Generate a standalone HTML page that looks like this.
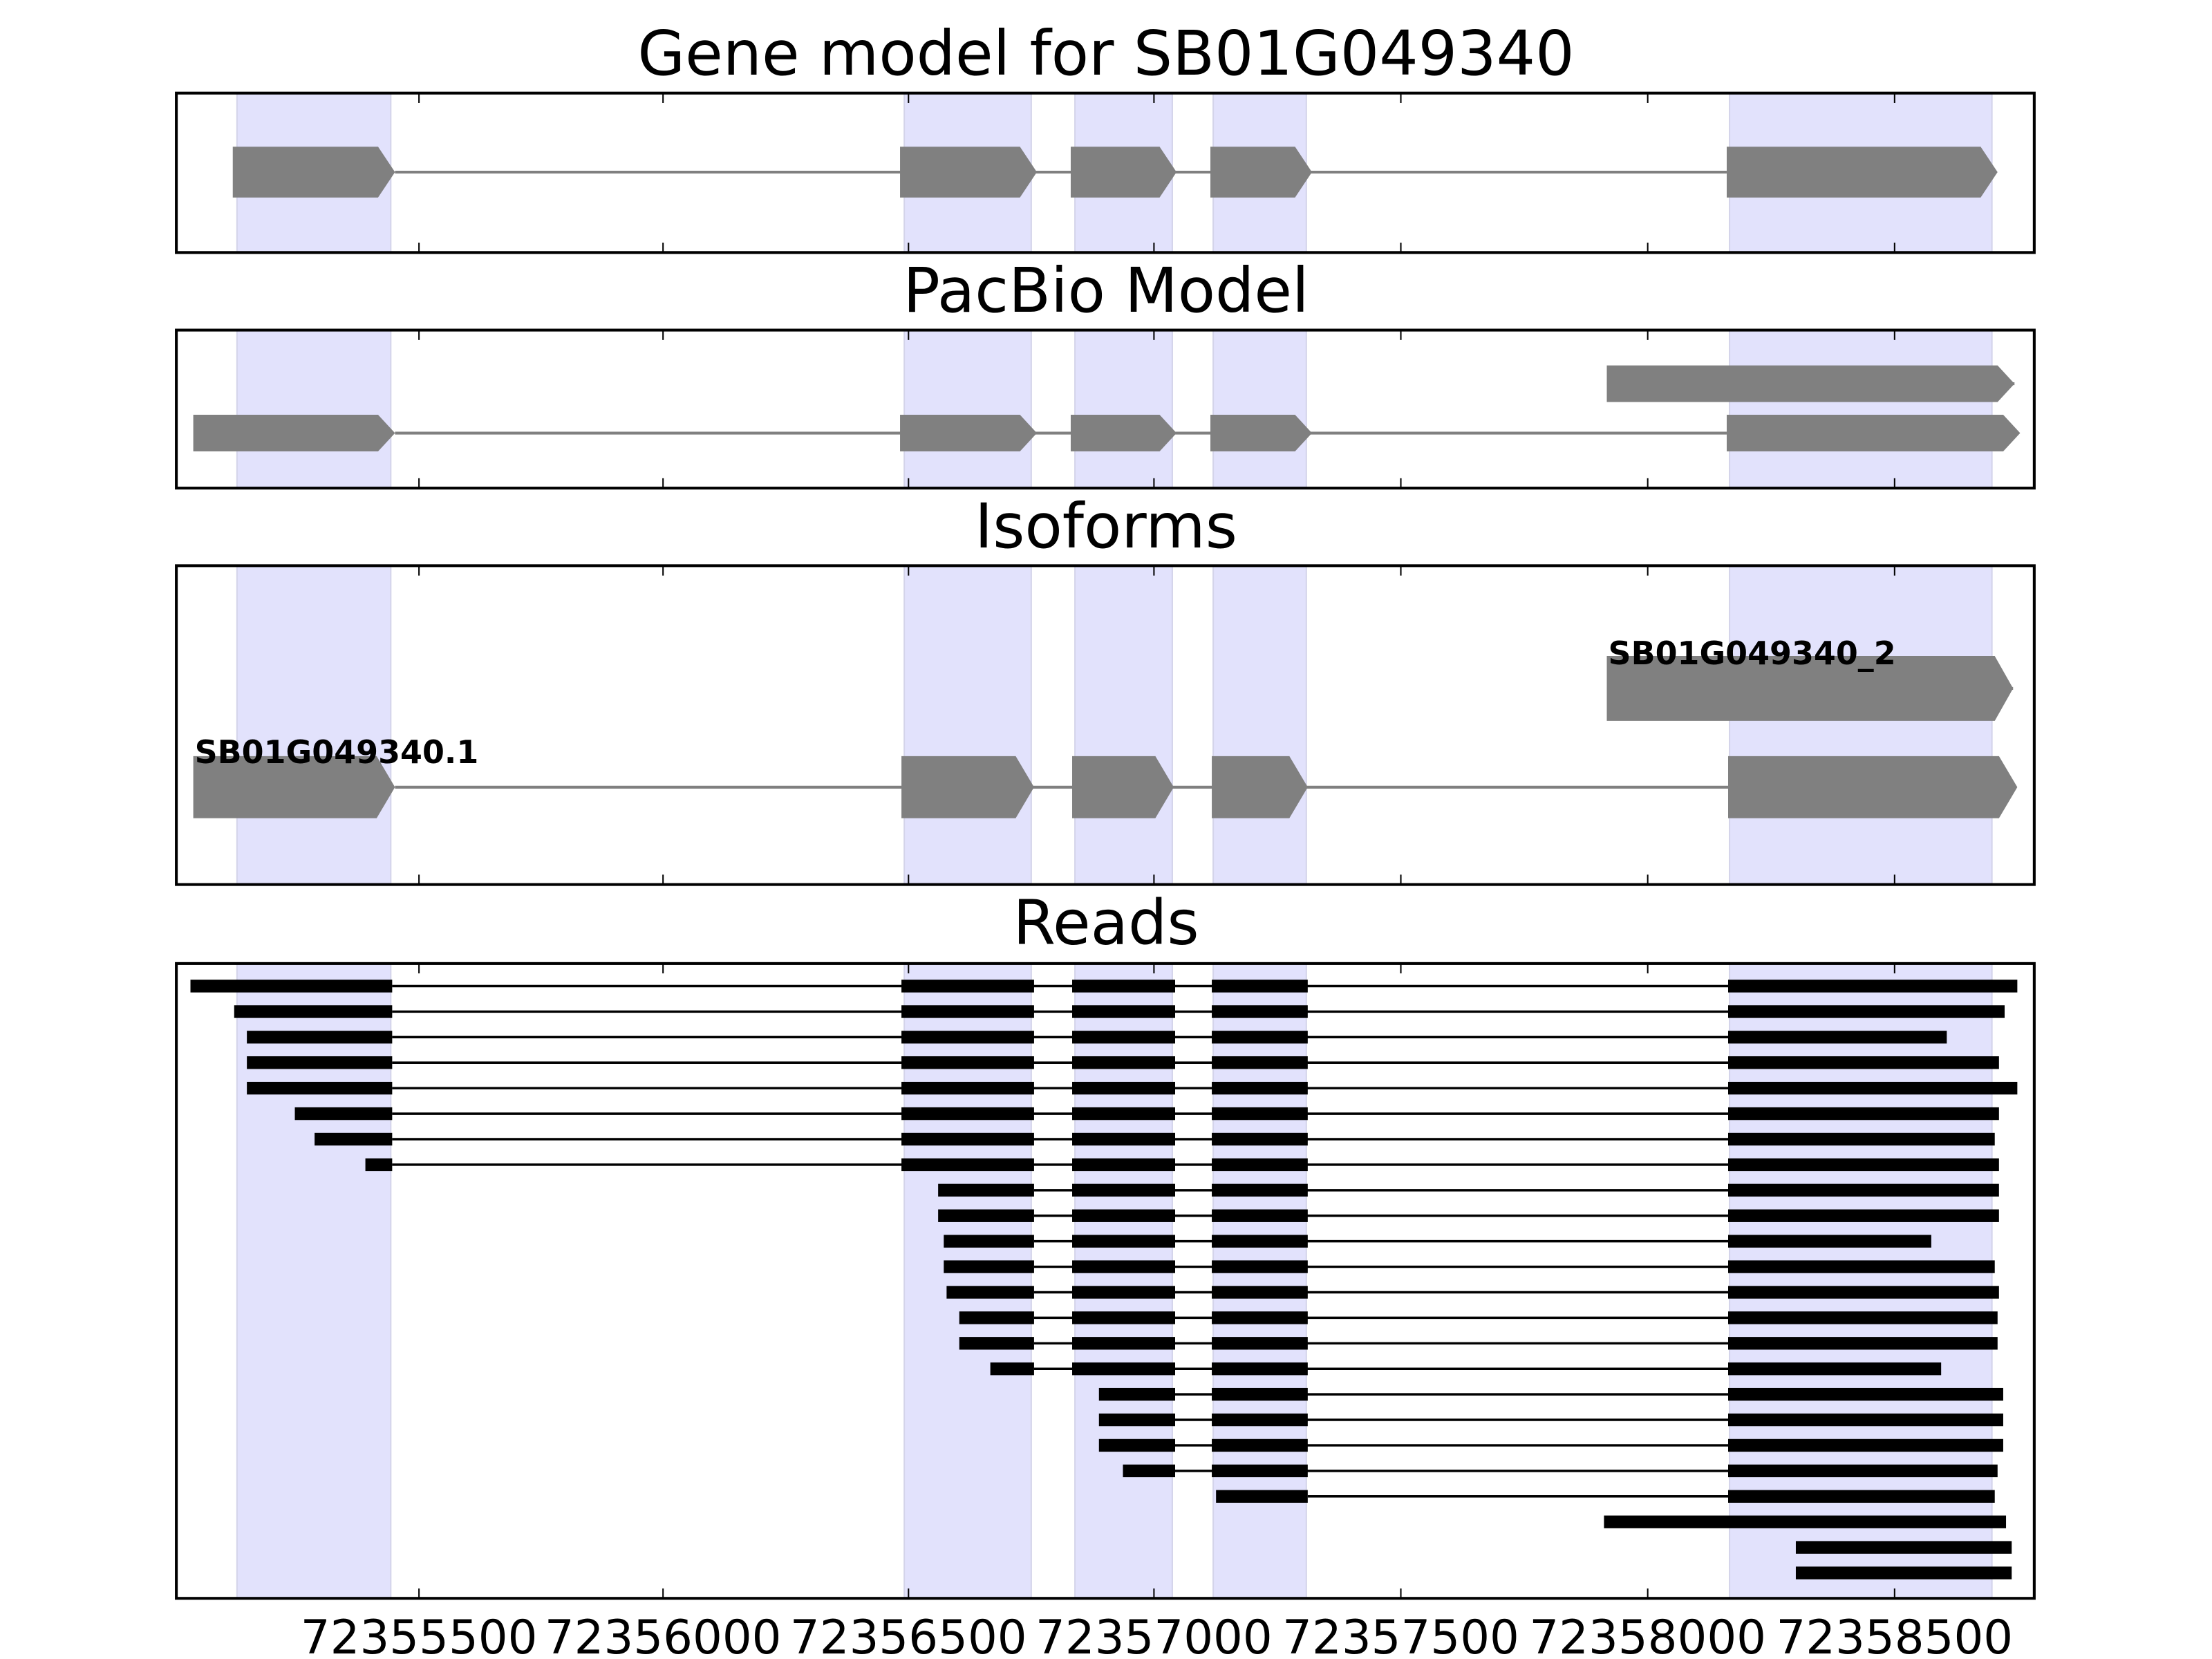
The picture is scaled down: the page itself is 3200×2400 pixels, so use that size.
<!DOCTYPE html>
<html><head><meta charset="utf-8"><style>html,body{margin:0;padding:0;background:#fff}svg{display:block}</style></head>
<body>
<svg id="s" xmlns="http://www.w3.org/2000/svg" width="3200" height="2400" viewBox="0 0 1568 1176" preserveAspectRatio="none">
<rect width="1568" height="1176" fill="#fff"/>
<g id="bands"></g>
<g id="shapes"></g>
<g id="axes"></g>
<g font-family="DejaVu Sans, Liberation Sans, sans-serif" fill="#000">
<text x="784" y="53" font-size="43.5" text-anchor="middle">Gene model for SB01G049340</text>
<text x="784" y="221" font-size="43.5" text-anchor="middle">PacBio Model</text>
<text x="784" y="388" font-size="43.5" text-anchor="middle">Isoforms</text>
<text x="784" y="669" font-size="43.5" text-anchor="middle">Reads</text>
<text x="1140" y="471" font-size="22.5" font-weight="bold">SB01G049340_2</text>
<text x="138" y="541" font-size="22.5" font-weight="bold">SB01G049340.1</text>
<g font-size="33" text-anchor="middle">
<text x="297" y="1172">72355500</text>
<text x="470" y="1172">72356000</text>
<text x="644" y="1172">72356500</text>
<text x="818" y="1172">72357000</text>
<text x="993" y="1172">72357500</text>
<text x="1168" y="1172">72358000</text>
<text x="1343" y="1172">72358500</text>
</g>
</g>
</svg>
<script>
const NS="http://www.w3.org/2000/svg";
function el(g,t,a){const e=document.createElementNS(NS,t);for(const k in a)e.setAttribute(k,a[k]);document.getElementById(g).appendChild(e);}
const panels=[[66,179],[234,346],[401,627],[683,1133]];
const bands=[[168,277],[641,731],[762,831],[860,926],[1226,1412]];
const ticks=[297,470,644,818,993,1168,1343];
panels.forEach(([t,b])=>{
 bands.forEach(([a,c])=>el('bands','rect',{x:a,y:t,width:c-a,height:b-t,fill:'#e2e2fc',stroke:'#d4d4ea','stroke-width':1}));
 ticks.forEach(x=>{el('axes','line',{x1:x,x2:x,y1:t,y2:t+7,stroke:'#000','stroke-width':1});el('axes','line',{x1:x,x2:x,y1:b,y2:b-7,stroke:'#000','stroke-width':1});});
 el('axes','rect',{x:125,y:t,width:1317,height:b-t,fill:'none',stroke:'#000','stroke-width':2});
});
function gene(exons,y,h,tip){
 el('shapes','line',{x1:exons[0][1],x2:exons[exons.length-1][0],y1:y,y2:y,stroke:'#808080','stroke-width':2});
 exons.forEach(([a,c])=>{el('shapes','polygon',{points:`${a},${y-h} ${c-tip},${y-h} ${c},${y} ${c-tip},${y+h} ${a},${y+h}`,fill:'#808080'});});
}
gene([[165,280],[638,735],[759,834],[858,930],[1224,1416]],122,18,12);
gene([[1139,1428]],272,13,12);
gene([[137,280],[638,735],[759,834],[858,930],[1224,1432]],307,13,12);
gene([[1139,1427]],488,23,13);
gene([[137,280],[639,733],[760,832],[859,927],[1225,1430]],558,22,13);
const ex=[[null,278],[639,733],[760,833],[859,927],[1225,null]];
const reads=[[135,0,1430],[166,0,1421],[175,0,1380],[175,0,1417],[175,0,1430],[209,0,1417],[223,0,1414],[259,0,1417],
[665,1,1417],[665,1,1417],[669,1,1369],[669,1,1414],[671,1,1417],[680,1,1416],[680,1,1416],[702,1,1376],
[779,2,1420],[779,2,1420],[779,2,1420],[796,2,1416],[862,3,1414]];
const step=(1115-699)/23;
reads.forEach(([s,k,e],i)=>{
 const y=699+i*step;
 el('shapes','line',{x1:(k==0?278:ex[k][1]),x2:1225,y1:y,y2:y,stroke:'#000','stroke-width':1.7});
 for(let j=k;j<5;j++){const a=j==k?s:ex[j][0];const c=j==4?e:ex[j][1];el('shapes','rect',{x:a,y:y-4.5,width:c-a,height:9,fill:'#000'});}
});
[[1137,1422],[1273,1426],[1273,1426]].forEach(([a,c],i)=>{const y=699+(21+i)*step;el('shapes','rect',{x:a,y:y-4.5,width:c-a,height:9,fill:'#000'});});
</script>
</body></html>
